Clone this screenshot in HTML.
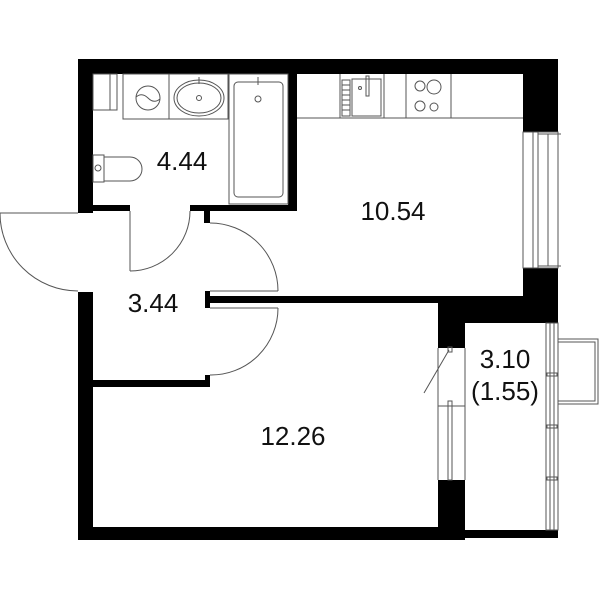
<!DOCTYPE html>
<html><head><meta charset="utf-8"><style>
html,body{margin:0;padding:0;background:#fff;}
svg{display:block;}
text{font-family:"Liberation Sans",sans-serif;fill:#111;}
</style></head><body>
<svg width="600" height="600" viewBox="0 0 600 600" xmlns="http://www.w3.org/2000/svg">
<g fill="#000">
<rect x="78" y="59" width="480" height="15"/>
<rect x="78" y="59" width="15" height="154"/>
<rect x="78" y="292" width="15" height="248"/>
<rect x="78" y="527" width="387" height="13"/>
<rect x="93" y="205" width="37" height="6"/>
<rect x="190" y="205" width="107" height="6"/>
<rect x="288" y="74" width="9" height="137"/>
<rect x="204" y="205" width="6" height="18"/>
<rect x="523" y="59" width="35" height="73"/>
<rect x="523" y="268" width="35" height="55"/>
<rect x="205" y="296" width="233" height="7"/>
<rect x="205" y="291" width="5" height="17"/>
<rect x="438" y="296" width="120" height="27"/>
<rect x="438" y="296" width="27" height="52"/>
<rect x="438" y="480" width="27" height="60"/>
<rect x="93" y="380" width="117" height="7"/>
<rect x="205" y="375" width="5" height="12"/>
<rect x="465" y="530" width="93" height="8"/>
</g>
<g fill="none" stroke="#555" stroke-width="1">
<line x1="0" y1="213" x2="78" y2="213"/>
<path d="M0,213 A78,78 0 0 0 78,291"/>
<line x1="130" y1="211" x2="130" y2="271"/>
<path d="M130,271 A60,60 0 0 0 190,211"/>
<line x1="210" y1="291" x2="278" y2="291"/>
<path d="M210,223 A68,68 0 0 1 278,291"/>
<line x1="210" y1="308" x2="278" y2="308"/>
<path d="M278,308 A67,67 0 0 1 210,375"/>
<rect x="93" y="74" width="24" height="36"/>
<line x1="110" y1="74" x2="110" y2="110"/>
<rect x="123" y="74" width="46" height="45"/>
<circle cx="148" cy="98" r="12"/>
<path d="M136,97 Q142,92 148,98 T160,99"/>
<rect x="169" y="74" width="59" height="45"/>
<ellipse cx="199" cy="98" rx="25" ry="18"/>
<ellipse cx="199" cy="98" rx="22" ry="15"/>
<circle cx="199" cy="98" r="2.5"/>
<line x1="199" y1="77" x2="199" y2="84"/>
<rect x="229" y="74" width="59" height="130"/>
<rect x="234" y="82" width="49" height="115" rx="4"/>
<circle cx="258" cy="99" r="3"/>
<line x1="258" y1="77" x2="258" y2="85"/>
<rect x="93" y="155" width="11" height="27"/>
<path d="M104,157 H130 A12,12 0 0 1 142,169 A12,12 0 0 1 130,181 H104"/>
<circle cx="98" cy="168" r="3"/>
<line x1="297" y1="118" x2="523" y2="118"/>
<line x1="340" y1="74" x2="340" y2="118"/>
<line x1="384" y1="74" x2="384" y2="118"/>
<line x1="406" y1="74" x2="406" y2="118"/>
<line x1="451" y1="74" x2="451" y2="118"/>
<rect x="342" y="80" width="8" height="36"/>
<line x1="342" y1="85" x2="350" y2="85"/><line x1="342" y1="90" x2="350" y2="90"/>
<line x1="342" y1="95" x2="350" y2="95"/><line x1="342" y1="100" x2="350" y2="100"/>
<line x1="342" y1="105" x2="350" y2="105"/><line x1="342" y1="110" x2="350" y2="110"/>
<rect x="352" y="79" width="29" height="37"/>
<rect x="366" y="76" width="3" height="20"/>
<circle cx="360" cy="88" r="1.5"/>
<circle cx="420" cy="86" r="5"/>
<circle cx="434" cy="87" r="7"/>
<circle cx="420" cy="106" r="5"/>
<circle cx="434" cy="107" r="4"/>
<rect x="523" y="132" width="35" height="136"/>
<line x1="533" y1="132" x2="533" y2="268"/>
<line x1="538" y1="132" x2="538" y2="268"/>
<line x1="548" y1="134" x2="548" y2="266"/>
<line x1="538" y1="134" x2="561" y2="134"/>
<line x1="538" y1="266" x2="561" y2="266"/>
<line x1="438" y1="348" x2="438" y2="480"/>
<line x1="465" y1="348" x2="465" y2="480"/>
<line x1="438" y1="406" x2="465" y2="406"/>
<rect x="448" y="401" width="4" height="79"/>
<rect x="448" y="347" width="4" height="5"/>
<line x1="449" y1="350" x2="424" y2="393"/>
<rect x="546" y="323" width="12" height="207"/>
<line x1="550" y1="323" x2="550" y2="530"/>
<line x1="554" y1="323" x2="554" y2="530"/>
<rect x="547" y="373" width="10" height="3"/>
<rect x="547" y="425" width="10" height="3"/>
<rect x="547" y="477" width="10" height="3"/>
<rect x="558" y="339" width="40" height="65"/>
<rect x="558" y="342" width="37" height="59"/>
</g>
<g font-size="26">
<text x="182" y="170" text-anchor="middle">4.44</text>
<text x="393" y="220" text-anchor="middle">10.54</text>
<text x="153" y="312" text-anchor="middle">3.44</text>
<text x="293" y="445" text-anchor="middle">12.26</text>
<text x="505" y="368" text-anchor="middle">3.10</text>
<text x="505" y="400" text-anchor="middle">(1.55)</text>
</g>
</svg>
</body></html>
